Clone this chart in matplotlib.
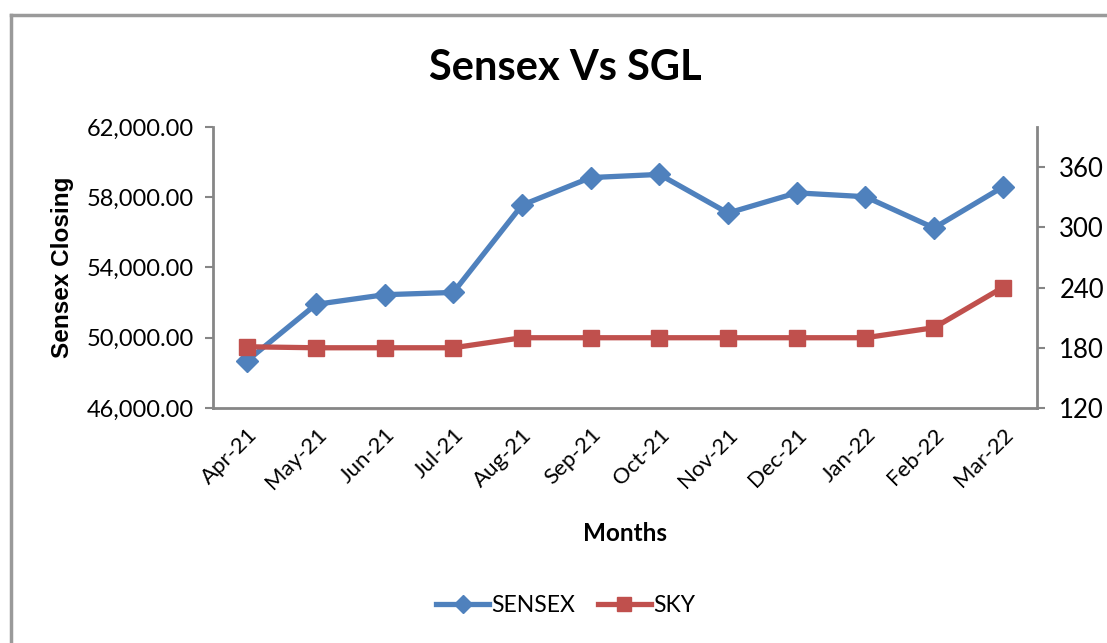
import matplotlib
matplotlib.use("Agg")
import matplotlib.pyplot as plt
from matplotlib.lines import Line2D
from matplotlib.ticker import FuncFormatter, FixedLocator

months = ["Apr-21", "May-21", "Jun-21", "Jul-21", "Aug-21", "Sep-21",
          "Oct-21", "Nov-21", "Dec-21", "Jan-22", "Feb-22", "Mar-22"]
sensex = [48700, 51900, 52450, 52580, 57550, 59120,
          59300, 57100, 58250, 58030, 56250, 58580]
sky = [181, 180, 180, 180, 190, 190, 190, 190, 190, 190, 200, 240]

left_ticks = [46000, 50000, 54000, 58000, 62000]
right_ticks = [120, 180, 240, 300, 360]

FONT = "Lato"
GRAY = "#868686"
BLUE = "#4F81BD"
RED = "#C0504D"

fig = plt.figure(figsize=(11.07, 6.43), dpi=100)
ax = fig.add_axes([0.1924, 0.3655, 0.7444, 0.437])
ax2 = ax.twinx()

x = list(range(len(months)))
l1, = ax.plot(x, sensex, color=BLUE, lw=3.8, marker="D", markersize=11,
              label="SENSEX", zorder=3)
l2, = ax2.plot(x, sky, color=RED, lw=3.8, marker="s", markersize=12,
               label="SKY", zorder=3)

ax.set_xlim(-0.5, len(months) - 0.5)
ax.set_ylim(46000, 62000)
ax2.set_ylim(120, 400)
ax.yaxis.set_major_locator(FixedLocator(left_ticks))
ax2.yaxis.set_major_locator(FixedLocator(right_ticks))
ax.yaxis.set_major_formatter(FuncFormatter(lambda v, p: f"{v:,.2f}"))
ax2.yaxis.set_major_formatter(FuncFormatter(lambda v, p: f"{int(v)}"))

ax.set_xticks(x)
ax.set_xticklabels(months, rotation=45, ha="right", rotation_mode="anchor",
                   fontsize=16, family=FONT)
ax.tick_params(axis="x", length=0, pad=12)
for a in (ax, ax2):
    for s in a.spines.values():
        s.set_visible(False)
ax.spines["left"].set_visible(True)
ax.spines["bottom"].set_visible(True)
ax2.spines["right"].set_visible(True)
for s in (ax.spines["left"], ax.spines["bottom"], ax2.spines["right"]):
    s.set_color(GRAY)
    s.set_linewidth(2)
ax.tick_params(axis="y", length=6, width=1.5, color=GRAY, labelsize=17, pad=8)
ax2.tick_params(axis="y", length=6, width=1.5, color=GRAY, labelsize=18.5, pad=10)
for lab in ax.get_yticklabels() + ax2.get_yticklabels():
    lab.set_family(FONT)

ax.set_ylabel("Sensex Closing", fontsize=17.5, fontweight="bold",
              family="Liberation Sans")
ax.yaxis.set_label_coords(-0.183, 0.5)
ax.yaxis.label.set_va("center")
ax.set_xlabel("Months", fontsize=17.5, fontweight="bold", family=FONT)
ax.xaxis.set_label_coords(0.5, -0.445)
ax.xaxis.label.set_va("center")

fig.text(0.511, 0.894, "Sensex Vs SGL", ha="center", va="center",
         fontsize=30, fontweight="bold", family=FONT)

fig.legend(handles=[l1, l2], loc="center", bbox_to_anchor=(0.511, 0.059),
           ncol=2, frameon=False, prop={"family": FONT, "size": 16.5},
           handlelength=2.3, columnspacing=1.0, handletextpad=0.1,
           markerscale=0.8)

fig.add_artist(Line2D([0.0095, 0.0095], [0, 0.977], transform=fig.transFigure,
                      color="#9a9a9a", lw=2.5))
fig.add_artist(Line2D([0.0095, 1.0], [0.977, 0.977], transform=fig.transFigure,
                      color="#9a9a9a", lw=2.5))

fig.savefig("out.png", dpi=100)
